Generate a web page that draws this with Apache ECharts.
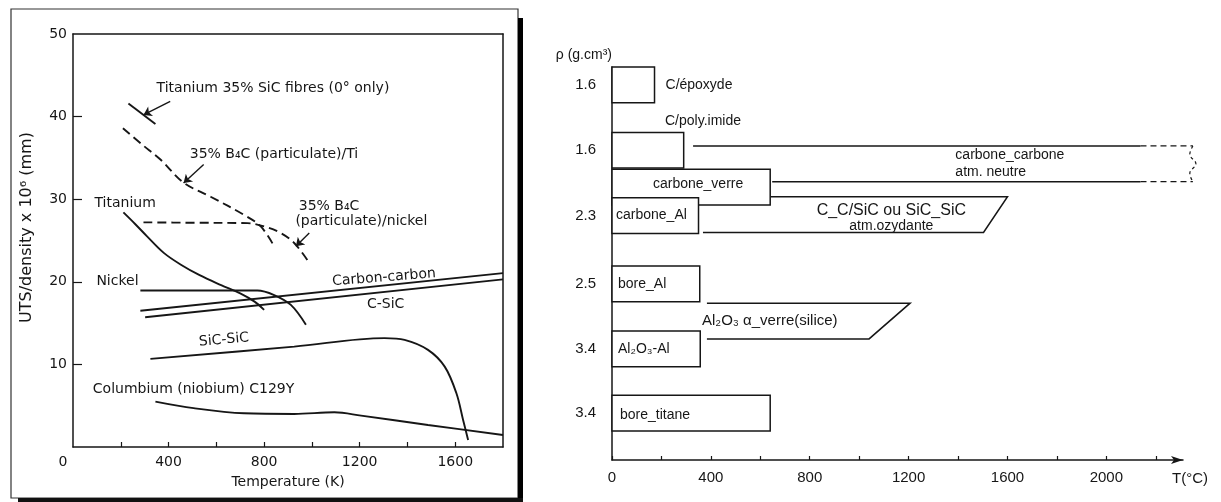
<!DOCTYPE html>
<html><head><meta charset="utf-8">
<script src="https://cdn.jsdelivr.net/npm/echarts@6/dist/echarts.min.js"></script>
<style>html,body{margin:0;padding:0;background:#fff}#c{width:1221px;height:502px}</style>
</head><body><div id="c"></div>
<script>
// ================= LEFT CHART DATA (UTS/density vs Temperature K) =================
const leftXLabels = [0, 400, 800, 1200, 1600];
const leftXTicks = [200, 400, 600, 800, 1000, 1200, 1400, 1600];
const leftYLabels = [10, 20, 30, 40, 50];
const leftYTicks = [10, 20, 30, 40];

const tiSicFibres = [[232, 41.6], [345, 39.1]];
const b4cTi = [[209, 38.6], [290, 36.6], [366, 34.8], [463, 32.0], [576, 30.3], [716, 28.1], [786, 26.7], [842, 24.3]];
const b4cNickel = [[295, 27.2], [500, 27.15], [730, 27.1], [800, 26.7], [870, 25.9], [926, 24.7], [989, 22.3]];
const titanium = [[211, 28.4], [260, 27.0], [310, 25.5], [380, 23.5], [450, 22.1], [530, 20.8], [620, 19.6], [700, 18.6], [760, 17.6], [800, 16.6]];
const nickel = [[282, 18.95], [772, 18.95], [842, 18.4], [912, 17.2], [975, 14.8]];
const carbonCarbon = [[282, 16.5], [1800, 21.05]];
const cSiC = [[302, 15.7], [1800, 20.3]];
const sicSic = [[324, 10.67], [926, 12.15], [1304, 13.18], [1388, 12.97], [1486, 11.76], [1556, 9.73], [1605, 6.5], [1633, 3.27], [1654, 0.85]];
const columbium = [[345, 5.5], [505, 4.7], [716, 4.08], [926, 4.0], [1094, 4.2], [1206, 3.8], [1486, 2.67], [1800, 1.45]];

const annoText = ['Titanium 35% SiC fibres (0° only)', '35% B₄C (particulate)/Ti', '35% B₄C', '(particulate)/nickel',
  'Titanium', 'Nickel', 'Carbon-carbon', 'C-SiC', 'SiC-SiC', 'Columbium (niobium) C129Y'];
const annoX = [352, 491, 947, 933, 92, 100, 1304, 1311, 634, 85];
const annoY = [43.3, 35.4, 29.1, 27.2, 29.45, 20.0, 20.45, 17.2, 12.9, 6.9];
const arrowFrom = [[407, 41.85], [547, 34.2], [989, 25.9]];
const arrowTo = [[295, 40.2], [463, 31.95], [933, 24.3]];

// ================= RIGHT CHART DATA (density / max temperature °C) =================
const rightXLabels = [0, 400, 800, 1200, 1600, 2000];
const rightXTicks = [0, 200, 400, 600, 800, 1000, 1200, 1400, 1600, 1800, 2000, 2200];
const boxNames = ['C/époxyde', 'C/poly.imide', 'carbone_verre', 'carbone_Al', 'bore_Al', 'Al₂O₃-Al', 'bore_titane'];
const boxMaxT = [172, 290, 640, 350, 355, 357, 640];
const boxDensity = ['1.6', '1.6', '', '2.3', '2.5', '3.4', '3.4'];
const boxRow = [0.5, 2.33, 3.36, 4.16, 6.07, 7.89, 9.69];   // row slot, top-down

const bandNames = [['carbone_carbone', 'atm. neutre'], ['C_C/SiC ou SiC_SiC', 'atm.ozydante'], ['Al₂O₃ α_verre(silice)']];
const bandStartTop = [328, 642, 384];
const bandStartBottom = [648, 368, 384];
const bandEndTop = [2350, 1600, 1206];
const bandEndBottom = [2350, 1503, 1040];
const bandSolidEnd = [2138, null, null];
const bandRow = [2.71, 4.13, 7.11];

// ================= styles / layout =================
const INK = '#161616';
const LFONT = 'DejaVu Sans, sans-serif';
const RFONT = 'Liberation Sans, Arial, sans-serif';
const annoStyle = [
  {align: 'left'}, {align: 'left'}, {align: 'left'}, {align: 'left'}, {align: 'left'},
  {align: 'left'}, {align: 'center', rotate: 4.5}, {align: 'center'}, {align: 'center', rotate: 5}, {align: 'left'}
];
const boxLabelLayout = [
  {mode: 'right', dx: 11, dy: 0},
  {mode: 'above', dx: 53, dy: -11},
  {mode: 'center', dx: 7, dy: -3},
  {mode: 'left', dx: 4, dy: 0},
  {mode: 'left', dx: 6, dy: 0},
  {mode: 'left', dx: 6, dy: 0},
  {mode: 'left', dx: 8, dy: 2}
];
const bandLabelLayout = [
  {at: 1389, align: 'left', dy: [-9, 8], size: [14, 14]},
  {at: 1130, align: 'center', dy: [-4, 12], size: [16, 14]},
  {at: 364, align: 'left', dy: [0], size: [15]}
];

function renderBox(params, api) {
  const i = api.value(2);
  const row = api.value(1);
  const p0 = api.coord([0, row - 0.5]);
  const p1 = api.coord([api.value(0), row + 0.5]);
  const cy = (p0[1] + p1[1]) / 2;
  const L = boxLabelLayout[i];
  let tx, ty, align = 'left';
  if (L.mode === 'right') { tx = p1[0] + L.dx; ty = cy + L.dy; }
  else if (L.mode === 'above') { tx = p0[0] + L.dx; ty = p0[1] + L.dy; }
  else if (L.mode === 'center') { tx = (p0[0] + p1[0]) / 2 + L.dx; ty = cy + L.dy; align = 'center'; }
  else { tx = p0[0] + L.dx; ty = cy + L.dy; }
  const children = [
    {type: 'rect', shape: {x: p0[0], y: p0[1], width: p1[0] - p0[0], height: p1[1] - p0[1]},
     style: {fill: '#fff', stroke: INK, lineWidth: 1.5}},
    {type: 'text', x: tx, y: ty, style: {text: boxNames[i], fill: INK, font: '14px ' + RFONT, align: align, verticalAlign: 'middle'}}
  ];
  if (boxDensity[i]) {
    children.push({type: 'text', x: p0[0] - 16, y: cy,
      style: {text: boxDensity[i], fill: INK, font: '15px ' + RFONT, align: 'right', verticalAlign: 'middle'}});
  }
  return {type: 'group', children: children};
}

function renderBand(params, api) {
  const i = api.value(0);
  const row = bandRow[i];
  const yT = api.coord([0, row - 0.5])[1];
  const yB = api.coord([0, row + 0.5])[1];
  const X = t => api.coord([t, row])[0];
  const sT = X(bandStartTop[i]), sB = X(bandStartBottom[i]), eT = X(bandEndTop[i]), eB = X(bandEndBottom[i]);
  const solid = {stroke: INK, lineWidth: 1.5, fill: null};
  const dashed = {stroke: INK, lineWidth: 1.3, fill: null, lineDash: [6, 4]};
  const children = [];
  if (bandSolidEnd[i] != null) {
    const s = X(bandSolidEnd[i]);
    children.push({type: 'line', shape: {x1: sT, y1: yT, x2: s, y2: yT}, style: solid});
    children.push({type: 'line', shape: {x1: sB, y1: yB, x2: s, y2: yB}, style: solid});
    children.push({type: 'line', shape: {x1: s, y1: yT, x2: eT, y2: yT}, style: dashed});
    children.push({type: 'line', shape: {x1: s, y1: yB, x2: eB, y2: yB}, style: dashed});
    const ym = (yT + yB) / 2;
    children.push({type: 'polyline', shape: {points: [[eT, yT], [eT - 3, yT + 9], [eT + 3, ym], [eT - 3, yB - 9], [eT, yB]], smooth: 0.4},
      style: {stroke: INK, lineWidth: 1.2, fill: null, lineDash: [3, 3]}});
  } else {
    children.push({type: 'polyline', shape: {points: [[sT, yT], [eT, yT], [eB, yB], [sB, yB]]}, style: solid});
  }
  const L = bandLabelLayout[i];
  const cy = (yT + yB) / 2;
  bandNames[i].forEach((t, k) => {
    children.push({type: 'text', x: X(L.at), y: cy + L.dy[k],
      style: {text: t, fill: INK, font: L.size[k] + 'px ' + RFONT, align: L.align, verticalAlign: 'middle'}});
  });
  return {type: 'group', children: children};
}

const leftLine = (data, dashed) => ({
  type: 'line', xAxisIndex: 0, yAxisIndex: 0, data: data, showSymbol: false, symbol: 'none',
  smooth: 0.35, silent: true, animation: false,
  lineStyle: {color: INK, width: 1.9, type: dashed ? [9, 5] : 'solid'}
});

const chart = echarts.init(document.getElementById('c'));
chart.setOption({
  animation: false,
  backgroundColor: '#fff',
  grid: [
    {left: 73, top: 34, width: 430, height: 413},
    {left: 612, top: 67, width: 571, height: 393}
  ],
  xAxis: [
    {gridIndex: 0, type: 'value', min: 0, max: 1800, interval: 200, position: 'bottom',
     axisLine: {onZero: false, lineStyle: {color: INK, width: 1.5}},
     axisTick: {inside: true, length: 5, customValues: leftXTicks, lineStyle: {color: INK, width: 1.2}},
     splitLine: {show: false},
     axisLabel: {customValues: leftXLabels, color: INK, fontSize: 14, fontFamily: LFONT, margin: 8,
       formatter: v => v === 0 ? '{z|0}' : String(v),
       rich: {z: {padding: [0, 20, 0, 0], fontSize: 14, fontFamily: LFONT, color: INK}}},
     name: 'Temperature (K)', nameLocation: 'middle', nameGap: 28,
     nameTextStyle: {color: INK, fontSize: 14, fontFamily: LFONT}},
    {gridIndex: 0, type: 'value', min: 0, max: 1800, position: 'top',
     axisLine: {onZero: false, lineStyle: {color: INK, width: 1.5}}, axisTick: {show: false}, axisLabel: {show: false}, splitLine: {show: false}},
    {gridIndex: 1, type: 'value', min: 0, max: 2310, interval: 200, position: 'bottom',
     axisLine: {onZero: false, symbol: ['none', 'arrow'], symbolSize: [6, 12], lineStyle: {color: INK, width: 1.5}},
     axisTick: {inside: true, length: 4, customValues: rightXTicks, lineStyle: {color: INK, width: 1.2}},
     splitLine: {show: false},
     axisLabel: {customValues: rightXLabels, formatter: v => String(v), color: INK, fontSize: 15, fontFamily: RFONT, margin: 10},
     name: 'T(°C)', nameLocation: 'end', nameGap: 7,
     nameTextStyle: {color: INK, fontSize: 15, fontFamily: RFONT, align: 'center', verticalAlign: 'top', padding: [11, 0, 0, 0]}}
  ],
  yAxis: [
    {gridIndex: 0, type: 'value', min: 0, max: 50, interval: 10,
     axisLine: {onZero: false, lineStyle: {color: INK, width: 1.5}},
     axisTick: {inside: true, length: 9, customValues: leftYTicks, lineStyle: {color: INK, width: 1.2}},
     splitLine: {show: false},
     axisLabel: {customValues: leftYLabels, color: INK, fontSize: 14, fontFamily: LFONT, margin: 6},
     name: 'UTS/density x 10⁶ (mm)', nameLocation: 'middle', nameGap: 38,
     nameTextStyle: {color: INK, fontSize: 16, fontFamily: LFONT, padding: [0, 0, 0, 26]}},
    {gridIndex: 0, type: 'value', min: 0, max: 50, position: 'right',
     axisLine: {show: true, onZero: false, lineStyle: {color: INK, width: 1.5}}, axisTick: {show: false}, axisLabel: {show: false}, splitLine: {show: false}},
    {gridIndex: 1, type: 'value', min: 0, max: 11, inverse: true,
     axisLine: {show: true, onZero: false, lineStyle: {color: INK, width: 1.5}}, axisTick: {show: false}, axisLabel: {show: false}, splitLine: {show: false},
     name: 'ρ (g.cm³)', nameLocation: 'start', nameGap: 5,
     nameTextStyle: {color: INK, fontSize: 14, fontFamily: RFONT, align: 'right', verticalAlign: 'bottom'}}
  ],
  series: [
    leftLine(tiSicFibres, false),
    leftLine(b4cTi, true),
    leftLine(b4cNickel, true),
    leftLine(titanium, false),
    leftLine(nickel, false),
    Object.assign(leftLine(carbonCarbon, false), {smooth: false}),
    Object.assign(leftLine(cSiC, false), {smooth: false}),
    leftLine(sicSic, false),
    leftLine(columbium, false),
    {type: 'lines', coordinateSystem: 'cartesian2d', xAxisIndex: 0, yAxisIndex: 0, silent: true,
     symbol: ['none', 'arrow'], symbolSize: 8,
     lineStyle: {color: INK, width: 1.4, opacity: 1, curveness: 0},
     data: arrowFrom.map((f, i) => ({coords: [f, arrowTo[i]]}))},
    {type: 'scatter', xAxisIndex: 0, yAxisIndex: 0, symbolSize: 1, silent: true,
     itemStyle: {color: 'transparent'},
     label: {show: true, position: [0, 0], color: INK, opacity: 1, fontFamily: LFONT, fontSize: 14, verticalAlign: 'middle'},
     data: annoText.map((t, i) => ({value: [annoX[i], annoY[i]],
       label: Object.assign({formatter: t}, annoStyle[i])}))},
    {type: 'custom', xAxisIndex: 2, yAxisIndex: 2, clip: false, silent: true,
     renderItem: renderBand,
     data: bandNames.map((n, i) => [i, bandRow[i]])},
    {type: 'custom', xAxisIndex: 2, yAxisIndex: 2, clip: false, silent: true,
     renderItem: renderBox,
     encode: {x: 0, y: 1},
     data: boxNames.map((n, i) => [boxMaxT[i], boxRow[i], i])}
  ],
  graphic: [
    {type: 'rect', shape: {x: 11, y: 9, width: 507, height: 489}, style: {fill: null, stroke: '#333', lineWidth: 1.2}, silent: true},
    {type: 'rect', shape: {x: 518, y: 18, width: 5, height: 484}, style: {fill: '#000'}, silent: true},
    {type: 'rect', shape: {x: 18, y: 498, width: 505, height: 4}, style: {fill: '#111'}, silent: true}
  ]
});
</script>
</body></html>
